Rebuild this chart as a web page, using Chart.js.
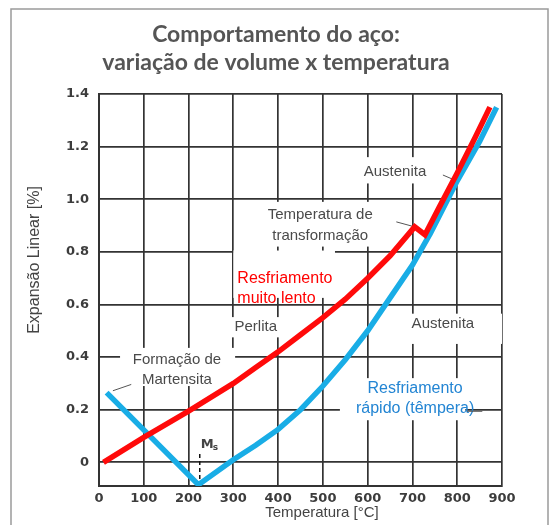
<!DOCTYPE html>
<html>
<head>
<meta charset="utf-8">
<script src="https://cdn.jsdelivr.net/npm/chart.js@4.4.1/dist/chart.umd.min.js"></script>
<style>
  body { margin: 0; background: #fff; }
  #wrap { width: 552px; height: 525px; position: relative; }
</style>
</head>
<body>
<div id="wrap"><canvas id="steelChart" width="552" height="525"></canvas></div>
<script>
// temperatura [°C] e expansão linear [%]
const slowTemps = [10, 100, 200, 300, 350, 400, 450, 500, 550, 600, 650, 705, 728, 760, 800, 840, 873];
const slowExpansion = [0.0, 0.095, 0.195, 0.30, 0.36, 0.42, 0.485, 0.55, 0.62, 0.70, 0.785, 0.895, 0.865, 0.97, 1.10, 1.235, 1.35];

const fastTemps = [17, 222, 300, 350, 400, 450, 500, 550, 600, 650, 700, 740, 800, 850, 888];
const fastExpansion = [0.265, -0.085, 0.01, 0.065, 0.125, 0.20, 0.29, 0.39, 0.50, 0.625, 0.75, 0.87, 1.07, 1.22, 1.35];

const xTicks = [0, 100, 200, 300, 400, 500, 600, 700, 800, 900];
const yTicks = [0, 0.2, 0.4, 0.6, 0.8, 1.0, 1.2, 1.4];

const titleLines = ['Comportamento do aço:', 'variação de volume x temperatura'];

const msTemp = 225;

function toPoints(xs, ys) {
    return xs.map((x, i) => ({ x: x, y: ys[i] }));
}

const gray = '#4a4a4a';
const labelFont = '15px "Liberation Sans", Arial, sans-serif';

// caixas brancas e textos das anotações (posições em unidades de dados)
const notes = [
    { lines: ['Austenita'], x: 661, y: 1.104, color: gray, box: [580, 1.16, 740, 1.06] },
    { lines: ['Temperatura de', 'transformação'], x: 494, y: 0.94, color: gray, box: [365, 0.99, 630, 0.82] },
    { lines: ['Resfriamento', 'muito lento'], x: 309, y: 0.70, color: '#ff0000', left: true, font: '16px "Liberation Sans", Arial, sans-serif', box: [300, 0.805, 527, 0.625] },
    { lines: ['Perlita'], x: 350, y: 0.513, color: gray, box: [280, 0.552, 420, 0.475] },
    { lines: ['Austenita'], x: 768, y: 0.525, color: gray, box: [640, 0.565, 900, 0.45] },
    { lines: ['Resfriamento', 'rápido (têmpera)'], x: 706, y: 0.28, color: '#2385d3', font: '16px "Liberation Sans", Arial, sans-serif', box: [538, 0.32, 818, 0.16], lineH: 0.074 },
    { lines: ['Formação de', 'Martensita'], x: 174, y: 0.39, color: gray, box: [47, 0.435, 304, 0.29] }
];

const leaders = [
    [768, 1.092, 790, 1.076],
    [664, 0.914, 705, 0.895],
    [822, 0.194, 856, 0.194],
    [31, 0.272, 72, 0.296]
];

const annotations = {
    id: 'annotations',
    beforeDatasetsDraw(chart) {
        const ctx = chart.ctx;
        const xs = chart.scales.x;
        const ys = chart.scales.y;
        const px = v => xs.getPixelForValue(v);
        const py = v => ys.getPixelForValue(v);
        ctx.save();
        notes.forEach(n => {
            const b = n.box;
            ctx.fillStyle = '#fff';
            ctx.fillRect(px(b[0]), py(b[1]), px(b[2]) - px(b[0]), py(b[3]) - py(b[1]));
        });
        notes.forEach(n => {
            ctx.font = n.font || labelFont;
            ctx.fillStyle = n.color;
            ctx.textBaseline = 'middle';
            ctx.textAlign = n.left ? 'left' : 'center';
            const step = n.lineH || 0.078;
            n.lines.forEach((t, i) => {
                ctx.fillText(t, px(n.x), py(n.y - i * step));
            });
        });
        ctx.strokeStyle = '#555';
        ctx.lineWidth = 1;
        leaders.forEach(l => {
            ctx.beginPath();
            ctx.moveTo(px(l[0]), py(l[1]));
            ctx.lineTo(px(l[2]), py(l[3]));
            ctx.stroke();
        });
        // linha Ms
        ctx.strokeStyle = '#111';
        ctx.lineWidth = 1.5;
        ctx.setLineDash([4, 3]);
        ctx.beginPath();
        ctx.moveTo(px(msTemp), py(-0.09));
        ctx.lineTo(px(msTemp), py(0.037));
        ctx.stroke();
        ctx.setLineDash([]);
        ctx.fillStyle = '#444';
        ctx.font = 'bold 13px "DejaVu Sans", sans-serif';
        ctx.textAlign = 'left';
        ctx.fillText('M', px(msTemp) + 1, py(0.068));
        ctx.font = 'bold 9px "DejaVu Sans", sans-serif';
        ctx.fillText('s', px(msTemp) + 13, py(0.057));
        ctx.restore();
    },
    afterDraw(chart) {
        const ctx = chart.ctx;
        ctx.save();
        ctx.strokeStyle = '#9a9a9a';
        ctx.lineWidth = 1.5;
        ctx.strokeRect(11, 9, 537, 530);
        ctx.textAlign = 'center';
        ctx.textBaseline = 'middle';
        ctx.fillStyle = '#555';
        ctx.font = 'bold 23px Lato, sans-serif';
        titleLines.forEach((t, i) => ctx.fillText(t, 276, 35 + i * 28));
        ctx.fillStyle = '#444';
        ctx.font = '15px "Liberation Sans", Arial, sans-serif';
        ctx.fillText('Temperatura [°C]', 322, 513);
        ctx.translate(35, 260);
        ctx.rotate(-Math.PI / 2);
        ctx.font = '16px "Liberation Sans", Arial, sans-serif';
        ctx.fillText('Expansão Linear [%]', 0, 0);
        ctx.restore();
    }
};

const gridStyle = { color: '#333', lineWidth: 1.7, drawTicks: false };
const tickFont = { family: '"DejaVu Sans", sans-serif', size: 13, weight: 'bold' };

const ctx = document.getElementById('steelChart').getContext('2d');
const myChart = new Chart(ctx, {
    type: 'line',
    data: {
        datasets: [{
            label: 'Resfriamento muito lento',
            data: toPoints(slowTemps, slowExpansion),
            borderColor: '#ff0a0a',
            borderWidth: 5.5,
            pointRadius: 0,
            tension: 0,
            borderJoinStyle: 'miter'
        }, {
            label: 'Resfriamento rápido (têmpera)',
            data: toPoints(fastTemps, fastExpansion),
            borderColor: '#19ade6',
            borderWidth: 5.5,
            pointRadius: 0,
            tension: 0,
            borderJoinStyle: 'miter'
        }]
    },
    options: {
        responsive: false,
        animation: false,
        layout: { padding: { left: 0, right: 50, top: 94, bottom: 0 } },
        plugins: {
            legend: { display: false },
            tooltip: { enabled: false },
            title: { display: false }
        },
        scales: {
            x: {
                type: 'linear',
                min: 0,
                max: 900,
                afterBuildTicks: s => { s.ticks = xTicks.map(v => ({ value: v })); },
                afterFit: s => { s.height = 39; },
                grid: gridStyle,
                border: { color: '#333', width: 2 },
                ticks: { color: '#3c3c3c', font: tickFont, padding: 5, maxRotation: 0 }
            },
            y: {
                min: -0.09,
                max: 1.4,
                afterBuildTicks: s => { s.ticks = yTicks.map(v => ({ value: v })); },
                afterFit: s => { s.width = 99; },
                grid: gridStyle,
                border: { color: '#333', width: 2 },
                ticks: {
                    color: '#3c3c3c',
                    font: tickFont,
                    padding: 10,
                    callback: v => v === 0 ? '0' : v.toFixed(1)
                }
            }
        }
    },
    plugins: [annotations]
});
</script>
</body>
</html>
